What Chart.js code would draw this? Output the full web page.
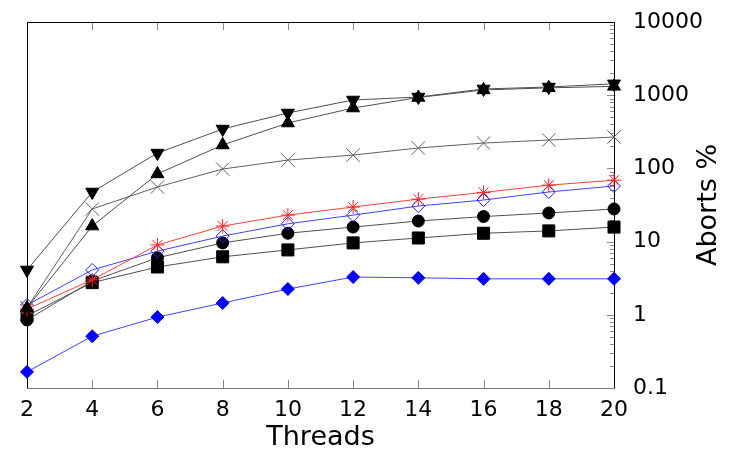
<!DOCTYPE html>
<html>
<head>
<meta charset="utf-8">
<script src="https://cdn.jsdelivr.net/npm/chart.js@4/dist/chart.umd.min.js"></script>
<style>
  html, body { margin: 0; padding: 0; background: #fff; }
  #wrap { width: 750px; height: 450px; }
</style>
</head>
<body>
<div id="wrap"><canvas id="chart" width="750" height="450"></canvas></div>
<script>
const threads = [2, 4, 6, 8, 10, 12, 14, 16, 18, 20];
const yTickValues = [0.1, 1, 10, 100, 1000, 10000];

// one array per marker series, Aborts %
const downTriangle = [4.1, 47.6, 162, 345, 571, 860, 944, 1216, 1294, 1430];
const upTriangle = [1.24, 16.3, 84, 209, 417, 668, 930, 1180, 1260, 1320];
const grayCross = [1.25, 27.9, 55.7, 98, 130, 152, 190, 222, 244, 268];
const redStar = [1.2, 3.0, 9.0, 16.3, 23, 29.7, 38, 47, 59, 69];
const blueOpenDiamond = [1.36, 4.1, 7.4, 11.9, 17.5, 23, 30.6, 37, 47.6, 57.5];
const blackCircle = [0.85, 2.9, 6.0, 9.6, 13, 15.8, 19.1, 22, 24.6, 27.9];
const blackSquare = [0.97, 2.75, 4.5, 6.2, 7.7, 9.6, 11.2, 13, 14, 15.8];
const blueDiamond = [0.166, 0.51, 0.93, 1.45, 2.25, 3.28, 3.2, 3.1, 3.1, 3.1];

const FONT = "'DejaVu Sans', sans-serif";

function series(values, opts) {
  return Object.assign({
    data: threads.map((t, i) => ({ x: t, y: values[i] })),
    borderColor: '#505050',
    borderWidth: 1,
    pointBackgroundColor: '#000',
    pointBorderColor: '#000',
    pointBorderWidth: 1,
    pointRadius: 6,
    pointHoverRadius: 6,
    tension: 0,
    clip: false,
    fill: false
  }, opts);
}

function noPad(scale) {
  scale.paddingTop = 0;
  scale.paddingBottom = 0;
  scale.paddingLeft = 0;
  scale.paddingRight = 0;
}

const frame = {
  id: 'frame',
  beforeDatasetsDraw(chart) {
    const { ctx, chartArea: a, scales: { x, y } } = chart;
    ctx.save();
    ctx.lineWidth = 1;
    ctx.strokeStyle = '#888';
    ctx.beginPath();
    threads.forEach(t => {
      const px = Math.round(x.getPixelForValue(t)) + 0.5;
      ctx.moveTo(px, a.top); ctx.lineTo(px, a.top + 8);
      ctx.moveTo(px, a.bottom); ctx.lineTo(px, a.bottom - 8);
    });
    yTickValues.forEach((v, i) => {
      const py = Math.round(y.getPixelForValue(v)) + 0.5;
      ctx.moveTo(a.right, py); ctx.lineTo(a.right - 7, py);
      if (i < yTickValues.length - 1) {
        for (let m = 2; m <= 9; m++) {
          const my = Math.round(y.getPixelForValue(v * m)) + 0.5;
          ctx.moveTo(a.right, my); ctx.lineTo(a.right - 4, my);
        }
      }
    });
    ctx.stroke();

    ctx.strokeStyle = '#000';
    ctx.beginPath();
    const l = Math.round(a.left) + 0.5, r = Math.round(a.right) + 0.5;
    const t = Math.round(a.top) + 0.5, b = Math.round(a.bottom) + 0.5;
    ctx.moveTo(l, b); ctx.lineTo(l, t); ctx.lineTo(r, t); ctx.lineTo(r, b);
    ctx.stroke();
    ctx.strokeStyle = '#777';
    ctx.beginPath();
    ctx.moveTo(l, b); ctx.lineTo(r, b);
    ctx.stroke();
    ctx.restore();
  },
  afterDraw(chart) {
    const { ctx, chartArea: a } = chart;
    ctx.save();
    ctx.translate(709, (a.top + a.bottom) / 2);
    ctx.rotate(-Math.PI / 2);
    ctx.font = '27px ' + FONT;
    ctx.fillStyle = '#000';
    ctx.textAlign = 'center';
    ctx.textBaseline = 'middle';
    ctx.fillText('Aborts %', 0, 0);
    ctx.restore();
  }
};

new Chart(document.getElementById('chart'), {
  type: 'line',
  data: {
    datasets: [
      series(downTriangle, { pointStyle: 'triangle', rotation: 180, pointRadius: 7.5 }),
      series(upTriangle, { pointStyle: 'triangle', pointRadius: 7.5 }),
      series(grayCross, { pointStyle: 'crossRot', pointRadius: 9.5, borderColor: '#606060', pointBorderColor: '#606060' }),
      series(redStar, { pointStyle: 'star', pointRadius: 7, borderColor: '#ff4040', pointBorderColor: '#ff2020' }),
      series(blueOpenDiamond, { pointStyle: 'rectRot', pointRadius: 6.5, borderColor: '#4040ff', pointBorderColor: '#2020ff', pointBackgroundColor: 'rgba(0,0,0,0)' }),
      series(blackCircle, { pointStyle: 'circle', pointRadius: 6 }),
      series(blackSquare, { pointStyle: 'rect', pointRadius: 8.5 }),
      series(blueDiamond, { pointStyle: 'rectRot', pointRadius: 6.5, borderColor: '#4040ff', pointBorderColor: '#0000ff', pointBackgroundColor: '#0000ff' })
    ]
  },
  options: {
    responsive: false,
    animation: false,
    layout: { padding: { left: 27, top: 22, right: 0, bottom: 0 } },
    plugins: { legend: { display: false }, tooltip: { enabled: false } },
    scales: {
      x: {
        type: 'linear',
        min: 2,
        max: 20,
        afterFit(scale) { scale.height = 62; noPad(scale); },
        afterBuildTicks(scale) { scale.ticks = threads.map(v => ({ value: v })); },
        grid: { display: false, drawTicks: false },
        border: { display: false },
        ticks: { color: '#000', padding: 9, maxRotation: 0, font: { family: FONT, size: 22 } },
        title: { display: true, text: 'Threads', color: '#000', padding: { top: 0, bottom: -4 }, font: { family: FONT, size: 27 } }
      },
      y: {
        type: 'logarithmic',
        position: 'right',
        min: 0.1,
        max: 10000,
        afterFit(scale) { scale.width = 136; noPad(scale); },
        afterBuildTicks(scale) { scale.ticks = yTickValues.map(v => ({ value: v })); },
        grid: { display: false, drawTicks: false },
        border: { display: false },
        ticks: { color: '#000', padding: 19, font: { family: FONT, size: 22 }, callback: v => String(v) }
      }
    }
  },
  plugins: [frame]
});
</script>
</body>
</html>
